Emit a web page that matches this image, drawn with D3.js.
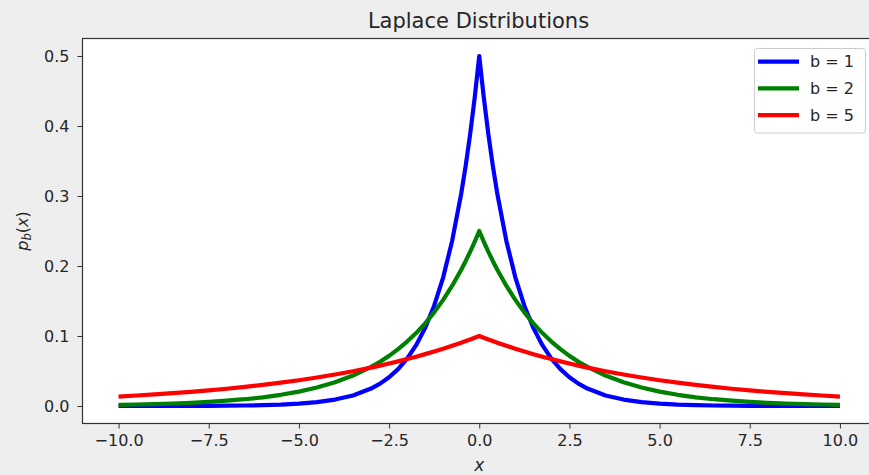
<!DOCTYPE html>
<html>
<head>
<meta charset="utf-8">
<script src="https://cdn.jsdelivr.net/npm/d3@7/dist/d3.min.js"></script>
<style>
  html, body { margin: 0; padding: 0; background: #eeeeee; }
  svg { display: block; }
  text { font-family: "DejaVu Sans", sans-serif; }
</style>
</head>
<body>
<svg id="chart" width="869" height="475"></svg>
<script>
// ---- data ----
const xValues = [-10,-9.5,-9,-8.5,-8,-7.5,-7,-6.5,-6,-5.5,-5,-4.5,-4,-3.5,-3,-2.75,-2.5,-2.25,-2,-1.75,-1.5,-1.25,-1,-0.75,-0.5,-0.375,-0.25,-0.125,
                 0,
                 0.125,0.25,0.375,0.5,0.75,1,1.25,1.5,1.75,2,2.25,2.5,2.75,3,3.5,4,4.5,5,5.5,6,6.5,7,7.5,8,8.5,9,9.5,10];
const b1Values = [0.00002,0.00004,0.00006,0.0001,0.00017,0.00028,0.00046,0.00075,0.0012,0.0020,0.0034,0.0056,0.0092,0.0151,0.0249,0.0320,0.0410,0.0527,0.0677,0.0869,0.1116,0.1433,0.1839,0.2362,0.3033,0.3436,0.3894,0.4412,
                  0.5,
                  0.4412,0.3894,0.3436,0.3033,0.2362,0.1839,0.1433,0.1116,0.0869,0.0677,0.0527,0.0410,0.0320,0.0249,0.0151,0.0092,0.0056,0.0034,0.0020,0.0012,0.00075,0.00046,0.00028,0.00017,0.0001,0.00006,0.00004,0.00002];
const b2Values = [0.0017,0.00216,0.0028,0.00357,0.0046,0.00588,0.0076,0.00969,0.0124,0.0160,0.0205,0.0264,0.0338,0.0435,0.0558,0.0632,0.0716,0.0812,0.0920,0.1042,0.1181,0.1338,0.1516,0.1718,0.1947,0.2072,0.2206,0.2349,
                  0.25,
                  0.2349,0.2206,0.2072,0.1947,0.1718,0.1516,0.1338,0.1181,0.1042,0.0920,0.0812,0.0716,0.0632,0.0558,0.0435,0.0338,0.0264,0.0205,0.0160,0.0124,0.00969,0.0076,0.00588,0.0046,0.00357,0.0028,0.00216,0.0017];
const b5Values = [0.01353,0.01496,0.01653,0.01827,0.02019,0.02231,0.02466,0.02725,0.03012,0.03329,0.03679,0.04066,0.04493,0.04966,0.05488,0.05769,0.06065,0.06376,0.06703,0.07047,0.07408,0.07788,0.08187,0.08607,0.09048,0.09277,0.09512,0.09753,
                  0.1,
                  0.09753,0.09512,0.09277,0.09048,0.08607,0.08187,0.07788,0.07408,0.07047,0.06703,0.06376,0.06065,0.05769,0.05488,0.04966,0.04493,0.04066,0.03679,0.03329,0.03012,0.02725,0.02466,0.02231,0.02019,0.01827,0.01653,0.01496,0.01353];
const seriesNames = ["b = 1", "b = 2", "b = 5"];
const seriesColors = ["#0000ff", "#008000", "#ff0000"];
const xTicks = [-10, -7.5, -5, -2.5, 0, 2.5, 5, 7.5, 10];
const yTicks = [0.0, 0.1, 0.2, 0.3, 0.4, 0.5];
const titleText = "Laplace Distributions";

(function () {
// ---- layout ----
const svg = d3.select("#chart");
const pLeft = 82.5, pRight = 876, pTop = 38.5, pBottom = 423.5;
const x = d3.scaleLinear().domain([-11, 11]).range([pLeft, pRight]);
const y = d3.scaleLinear().domain([-0.025, 0.525]).range([pBottom, pTop]);

svg.append("rect").attr("x", 0).attr("y", 0).attr("width", 869).attr("height", 475).attr("fill", "#eeeeee");
svg.append("rect").attr("x", pLeft).attr("y", pTop).attr("width", pRight - pLeft).attr("height", pBottom - pTop).attr("fill", "#ffffff");

const series = [b1Values, b2Values, b5Values];
const line = d3.line().x((d, i) => x(xValues[i])).y(d => y(d));
svg.append("clipPath").attr("id", "clip").append("rect")
  .attr("x", pLeft).attr("y", pTop).attr("width", pRight - pLeft).attr("height", pBottom - pTop);
const g = svg.append("g").attr("clip-path", "url(#clip)");
series.forEach((vals, k) => {
  g.append("path").datum(vals).attr("d", line)
    .attr("fill", "none").attr("stroke", seriesColors[k]).attr("stroke-width", 4.2)
    .attr("stroke-linejoin", "round").attr("stroke-linecap", "butt");
});

// axes
const xAxis = d3.axisBottom(x).tickValues(xTicks).tickSize(5).tickPadding(6)
  .tickFormat(d => d3.format(".1f")(d).replace("-", "\u2212"));
const yAxis = d3.axisLeft(y).tickValues(yTicks).tickSize(5).tickPadding(8)
  .tickFormat(d3.format(".1f"));
const gx = svg.append("g").attr("transform", `translate(0,${pBottom})`).call(xAxis);
const gy = svg.append("g").attr("transform", `translate(${pLeft},0)`).call(yAxis);
[gx, gy].forEach(ax => {
  ax.select(".domain").remove();
  ax.selectAll(".tick line").attr("stroke", "#333").attr("stroke-width", 1);
  ax.selectAll(".tick text").attr("fill", "#262626").attr("font-size", 16)
    .attr("font-family", "DejaVu Sans, sans-serif");
});
gy.selectAll(".tick text").attr("dy", "0.36em");

// frame
svg.append("rect").attr("x", pLeft).attr("y", pTop).attr("width", pRight - pLeft).attr("height", pBottom - pTop)
  .attr("fill", "none").attr("stroke", "#333").attr("stroke-width", 1.2);

// title
svg.append("text").attr("x", 478.5).attr("y", 27.5).attr("text-anchor", "middle")
  .attr("font-size", 21).attr("fill", "#262626").text(titleText);

// x label
svg.append("text").attr("x", x(0)).attr("y", 471).attr("text-anchor", "middle")
  .attr("font-size", 17).attr("font-style", "italic").attr("fill", "#262626").text("x");

// y label p_b(x)
const yl = svg.append("text").attr("transform", `translate(28,${(pTop + pBottom) / 2}) rotate(-90)`)
  .attr("text-anchor", "middle").attr("font-size", 16).attr("fill", "#262626");
yl.append("tspan").attr("font-style", "italic").text("p");
yl.append("tspan").attr("font-style", "italic").attr("font-size", 11.5).attr("dy", 3).text("b");
yl.append("tspan").attr("dy", -3).text("(");
yl.append("tspan").attr("font-style", "italic").text("x");
yl.append("tspan").text(")");

// legend
const lg = svg.append("g");
lg.append("rect").attr("x", 754.5).attr("y", 48.5).attr("width", 111).attr("height", 84.5)
  .attr("rx", 3).attr("fill", "#ffffff").attr("fill-opacity", 0.85).attr("stroke", "#cccccc").attr("stroke-width", 1);
seriesNames.forEach((name, k) => {
  const yy = 61.7 + k * 26.7;
  lg.append("line").attr("x1", 758).attr("x2", 799).attr("y1", yy).attr("y2", yy)
    .attr("stroke", seriesColors[k]).attr("stroke-width", 4.2);
  lg.append("text").attr("x", 810).attr("y", yy).attr("dy", "0.36em")
    .attr("font-size", 16).attr("fill", "#262626").text(name);
});
})();
</script>
</body>
</html>
